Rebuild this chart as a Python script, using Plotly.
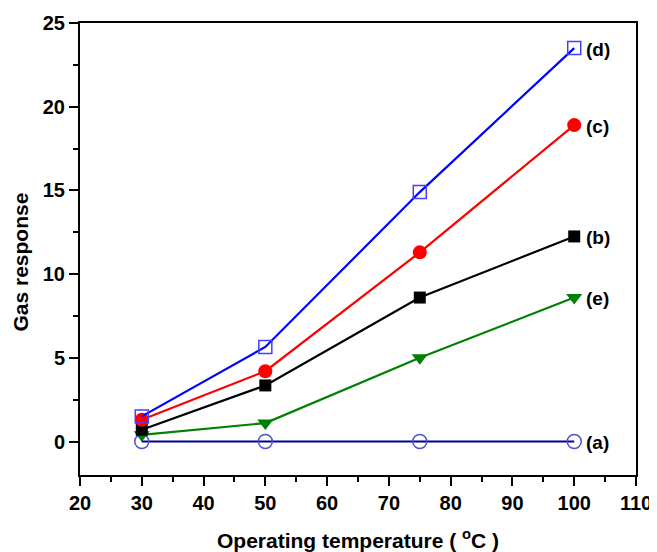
import plotly.graph_objects as go

temps = [30, 50, 75, 100]
series_a = [0.0, 0.0, 0.0, 0.0]
series_b = [0.7, 3.35, 8.6, 12.25]
series_c = [1.3, 4.2, 11.3, 18.9]
series_d = [1.5, 5.65, 14.9, 23.5]
series_e = [0.4, 1.1, 5.0, 8.6]
labels = ["(a)", "(b)", "(c)", "(d)", "(e)"]

FONT = "Liberation Sans, Arial, sans-serif"

fig = go.Figure()

specs = [
    (series_e, "#008000", dict(symbol="triangle-down", size=14, color="#008000")),
    (series_a, "#00008B", dict(symbol="circle-open", size=14, color="#4F4FD0", line=dict(width=1.5))),
    (series_b, "#000000", dict(symbol="square", size=12, color="#000000")),
    (series_c, "#FF0000", dict(symbol="circle", size=14, color="#FF0000")),
    (series_d, "#0000FF", dict(symbol="square-open", size=13, color="#4040FF", line=dict(width=1.5))),
]
for ys, col, mk in specs:
    fig.add_trace(go.Scatter(x=temps, y=ys, mode="lines+markers",
                             line=dict(color=col, width=2.2), marker=mk,
                             showlegend=False, cliponaxis=False))

for lab, ys in zip(labels, [series_a, series_b, series_c, series_d, series_e]):
    fig.add_annotation(x=temps[-1], y=ys[-1], text="<b>%s</b>" % lab,
                       showarrow=False, xanchor="left", xshift=10, yshift=-1,
                       font=dict(family=FONT, size=19, color="black"))

# y-axis title (placed slightly below the plot centre, as in the original)
fig.add_annotation(xref="paper", yref="paper", x=0, y=0.47, xshift=-59,
                   text="<b>Gas response</b>", textangle=-90, showarrow=False,
                   xanchor="center", yanchor="middle", borderpad=0,
                   font=dict(family=FONT, size=21, color="black"))

axis_common = dict(showline=True, linecolor="black", linewidth=2, mirror=True,
                   ticks="outside", ticklen=9, tickwidth=2, tickcolor="black",
                   showgrid=False, zeroline=False, automargin=False,
                   tickfont=dict(family=FONT, size=20, color="black", weight="bold"))

fig.update_xaxes(range=[20, 110], tick0=20, dtick=10,
                 minor=dict(ticks="outside", ticklen=5, tickwidth=2, dtick=5, tick0=20, tickcolor="black"),
                 title=dict(text="<b>Operating temperature ( <sup>o</sup>C )</b>",
                            font=dict(family=FONT, size=21, color="black"), standoff=20),
                 **axis_common)
fig.update_yaxes(range=[-2, 25], tick0=0, dtick=5,
                 minor=dict(ticks="outside", ticklen=5, tickwidth=2, dtick=2.5, tick0=0, tickcolor="black"),
                 **axis_common)

# page body has an 8px margin, so the figure is sized to fit the 657x552 window
fig.update_layout(width=649, height=544, margin=dict(l=72, r=21, t=15, b=77),
                  plot_bgcolor="white", paper_bgcolor="white")

fig.write_html("out.html")
